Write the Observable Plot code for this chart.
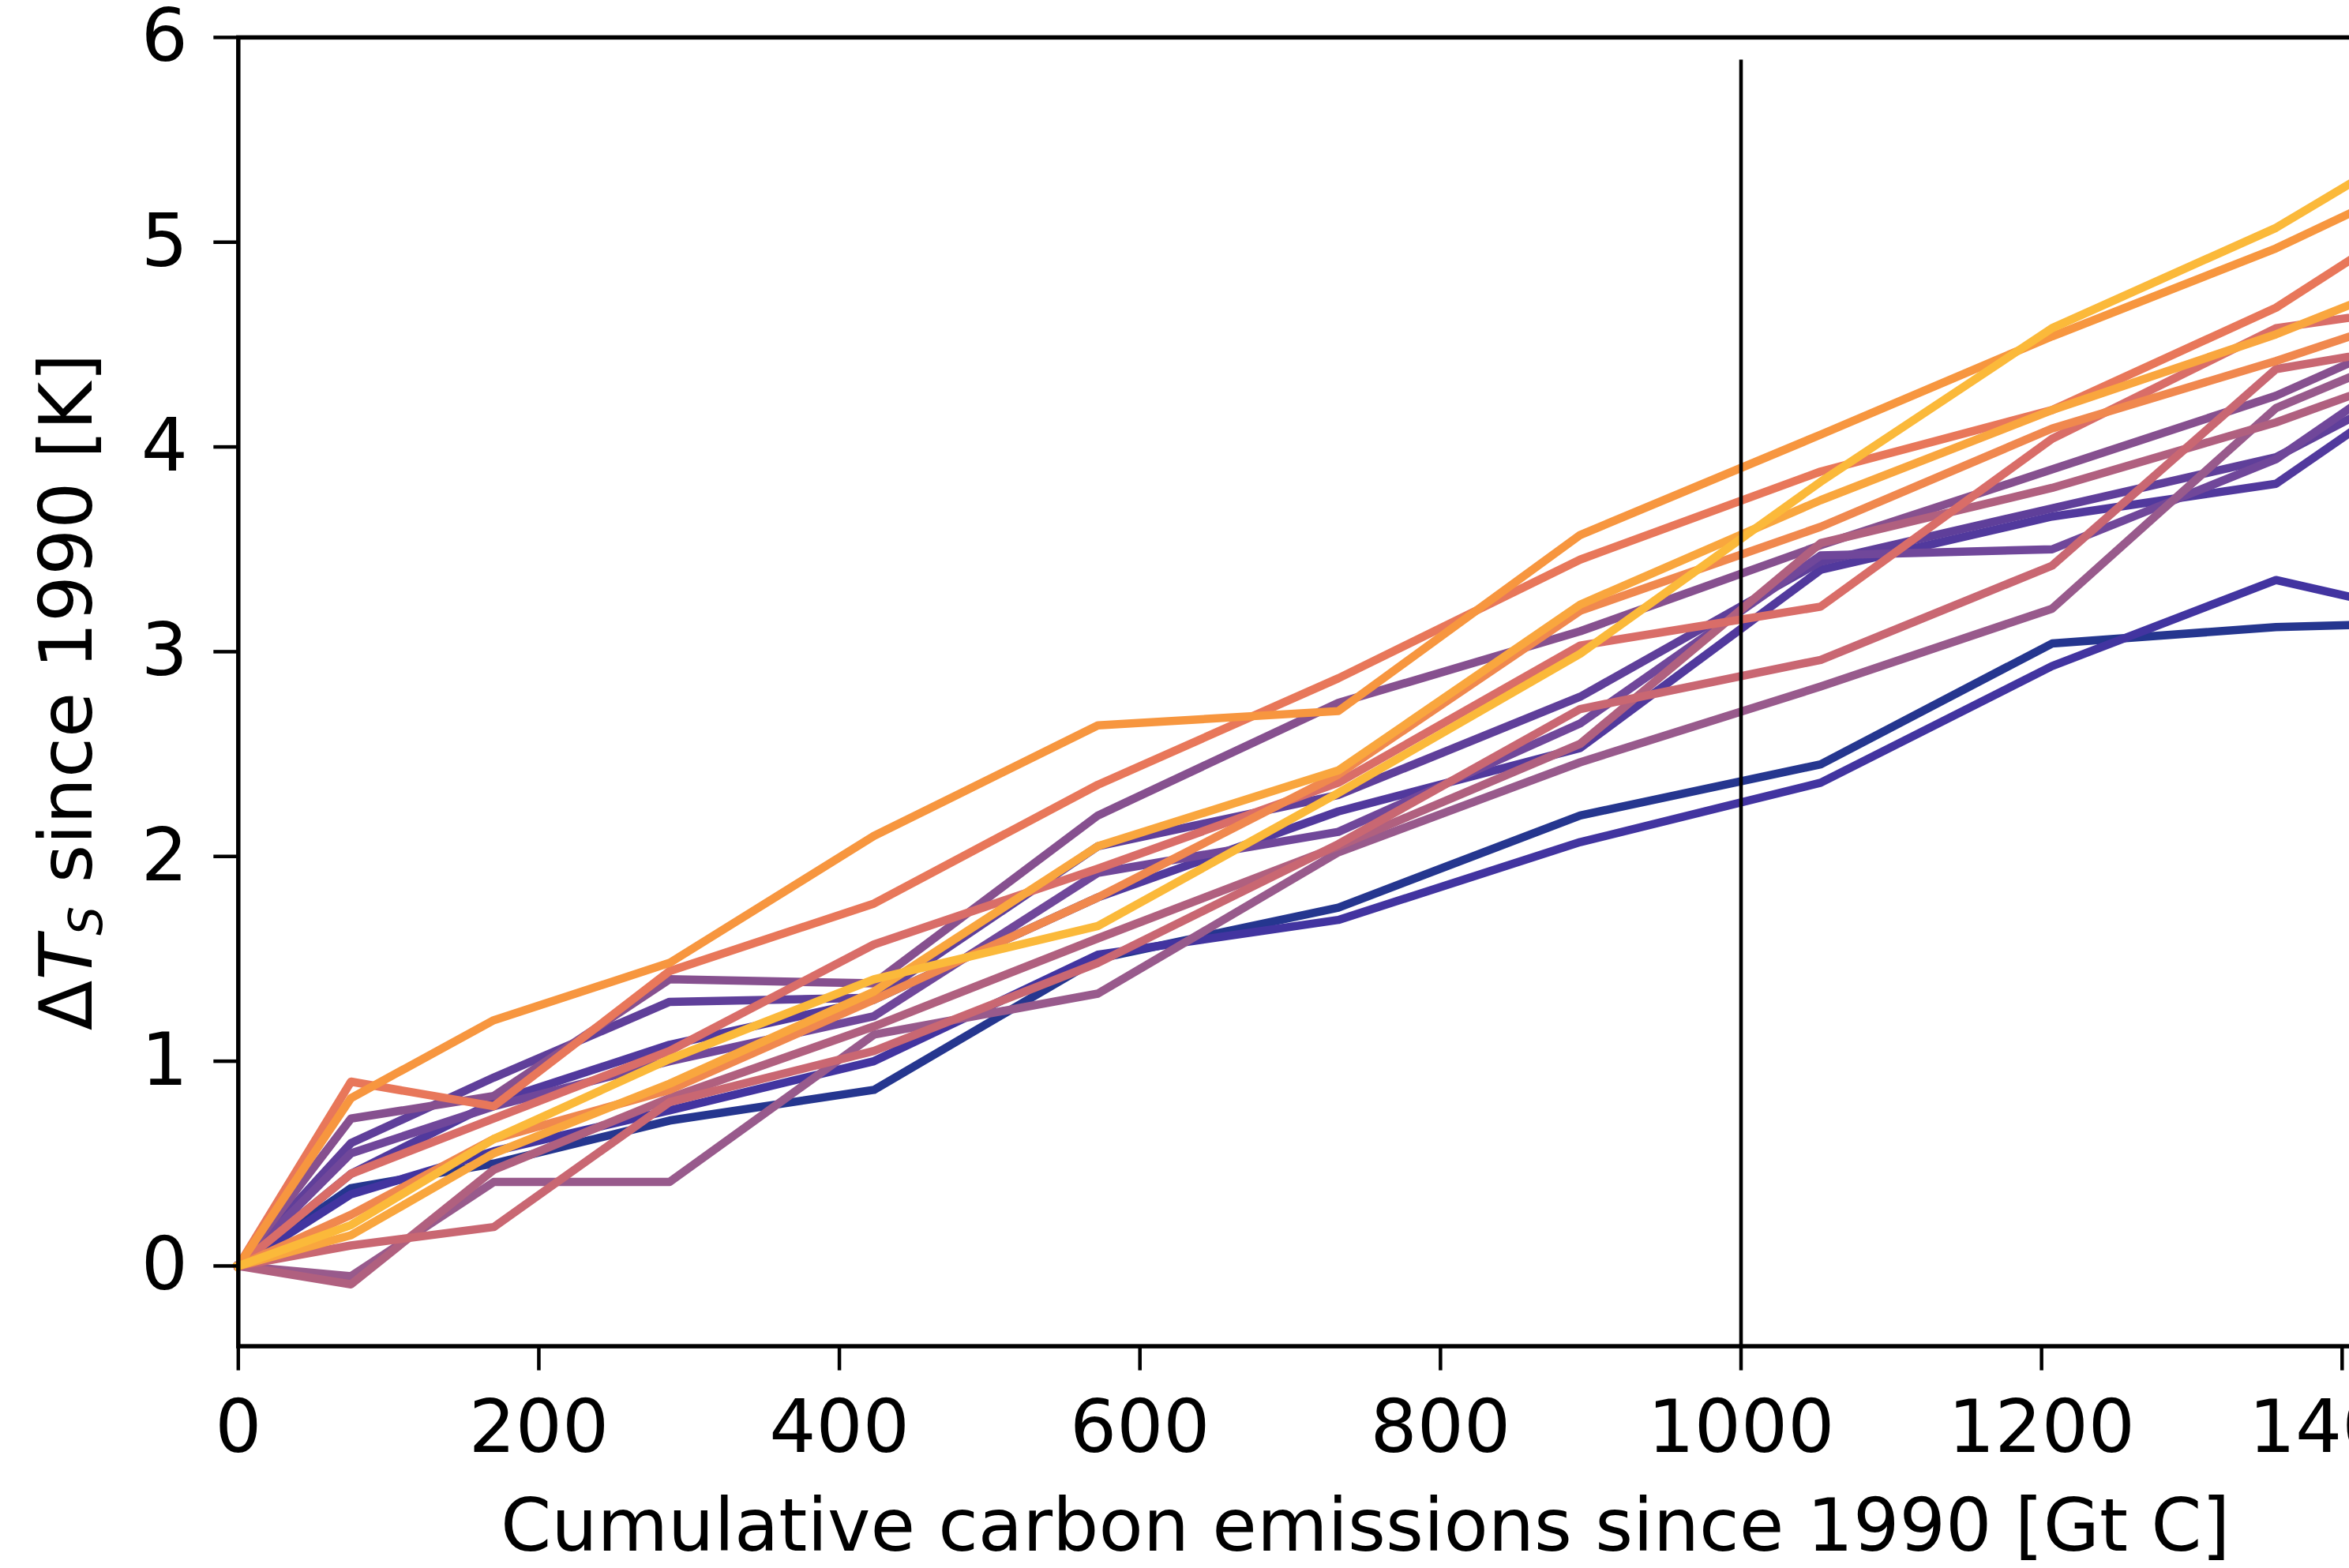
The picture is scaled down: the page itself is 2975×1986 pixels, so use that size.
<!DOCTYPE html>
<html>
<head>
<meta charset="utf-8">
<script src="https://cdn.jsdelivr.net/npm/d3@7"></script>
<script src="https://cdn.jsdelivr.net/npm/@observablehq/plot@0.6"></script>
<style>
  html, body { margin: 0; padding: 0; background: #ffffff; overflow: hidden; }
  #chart svg { display: block; }
</style>
</head>
<body>
<div id="chart"></div>
<script>
// Cumulative carbon emissions since 1990 [Gt C] at each model output step
const emissions = [0, 75, 170, 287, 423, 572, 732, 893, 1053, 1207, 1356, 1500];

// Surface warming since 1990 [K] for each ensemble member
const run01 = [0, 0.38, 0.50, 0.71, 0.86, 1.50, 1.75, 2.20, 2.45, 3.04, 3.12, 3.15];
const run02 = [0, 0.35, 0.56, 0.76, 1.00, 1.52, 1.69, 2.07, 2.36, 2.93, 3.35, 3.11];
const run03 = [0, 0.45, 0.80, 1.08, 1.30, 1.80, 2.22, 2.53, 3.40, 3.66, 3.82, 4.55];
const run04 = [0, 0.60, 0.92, 1.29, 1.31, 2.05, 2.30, 2.78, 3.44, 3.70, 3.95, 4.50];
const run05 = [0, 0.55, 0.78, 1.00, 1.22, 1.92, 2.12, 2.65, 3.47, 3.50, 3.94, 4.67];
const run06 = [0, 0.72, 0.83, 1.40, 1.38, 2.20, 2.75, 3.10, 3.52, 3.89, 4.25, 4.72];
const run07 = [0, -0.05, 0.41, 0.41, 1.13, 1.33, 2.02, 2.46, 2.83, 3.21, 4.19, 4.63];
const run08 = [0, -0.09, 0.47, 0.82, 1.17, 1.60, 2.05, 2.55, 3.53, 3.80, 4.12, 4.50];
const run09 = [0, 0.10, 0.19, 0.80, 1.05, 1.48, 2.06, 2.72, 2.96, 3.42, 4.38, 4.56];
const run10 = [0, 0.45, 0.72, 1.05, 1.57, 1.94, 2.36, 3.03, 3.22, 4.04, 4.58, 4.73];
const run11 = [0, 0.90, 0.78, 1.44, 1.77, 2.35, 2.87, 3.45, 3.88, 4.18, 4.68, 5.36];
const run12 = [0, 0.25, 0.62, 0.86, 1.30, 1.80, 2.40, 3.20, 3.61, 4.09, 4.42, 4.77];
const run13 = [0, 0.82, 1.20, 1.48, 2.10, 2.64, 2.71, 3.57, 4.06, 4.54, 4.97, 5.47];
const run14 = [0, 0.15, 0.55, 0.89, 1.34, 2.05, 2.42, 3.23, 3.74, 4.18, 4.55, 4.97];
const run15 = [0, 0.20, 0.62, 1.01, 1.40, 1.66, 2.31, 2.99, 3.83, 4.58, 5.07, 5.70];

const runs = [run01, run02, run03, run04, run05, run06, run07, run08,
              run09, run10, run11, run12, run13, run14, run15];

const runColors = ["#25368f", "#4234a0", "#51399d", "#5f3f9a", "#70479a", "#86508f",
                   "#985a8c", "#b0607f", "#c96772", "#d96d68", "#e8775a", "#f0884e",
                   "#f7963f", "#f9a63e", "#fbb93a"];

const xTicks = [0, 200, 400, 600, 800, 1000, 1200, 1400];
const yTicks = [0, 1, 2, 3, 4, 5, 6];
const markerEmission = [1000];

const xLabel = "Cumulative carbon emissions since 1990 [Gt C]";
const yLabel = "\u0394TS since 1990 [K]";

const rows = runs.flatMap((vals, i) => vals.map((v, j) => ({run: i, x: emissions[j], y: v})));

const yMin = -0.392, yMax = 6;

const plot = Plot.plot({
  width: 2975,
  height: 1986,
  marginLeft: 301.3,
  marginRight: -181.1,
  marginTop: 46.9,
  marginBottom: 281.4,
  style: {fontFamily: "DejaVu Sans", fontSize: "93px", background: "#ffffff", color: "#000000", overflow: "hidden"},
  x: {domain: [0, 1500]},
  y: {domain: [yMin, yMax]},
  color: {type: "ordinal", domain: d3.range(runs.length), range: runColors},
  marks: [
    Plot.line(rows, {x: "x", y: "y", z: "run", stroke: "run", strokeWidth: 10.5,
                     strokeLinejoin: "round", strokeLinecap: "square"}),
    Plot.ruleX(markerEmission, {y1: yMin, y2: 5.89, stroke: "#000000", strokeWidth: 4.6}),
    Plot.frame({stroke: "#000000", strokeWidth: 5.5}),
    Plot.axisX({ticks: xTicks, tickSize: 31, tickPadding: 37, strokeWidth: 4.5,
                fontSize: 93, label: null, tickFormat: d => String(d)}),
    Plot.axisY({ticks: yTicks, tickSize: 31, tickPadding: 33, strokeWidth: 4.5,
                fontSize: 93, label: null, tickFormat: d => String(d)}),
    Plot.text([xLabel], {frameAnchor: "bottom", lineAnchor: "middle", textAnchor: "middle",
                         dy: 229, fontSize: 92, fill: "#000000"}),
    Plot.text([yLabel], {frameAnchor: "left", lineAnchor: "middle", textAnchor: "middle",
                         rotate: -90, dx: -215.6, fontSize: 93, fill: "#000000"})
  ]
});

d3.select(plot).selectAll("text")
  .filter(function () { return this.textContent === yLabel; })
  .each(function () {
    const t = d3.select(this);
    t.text(null);
    t.append("tspan").text("\u0394");
    t.append("tspan").attr("font-style", "italic").text("T");
    t.append("tspan").attr("font-style", "italic").attr("font-size", "58px").attr("dy", "13").text("S");
    t.append("tspan").attr("dy", "-13").text(" since 1990 [K]");
  });

document.getElementById("chart").appendChild(plot);
</script>
</body>
</html>
